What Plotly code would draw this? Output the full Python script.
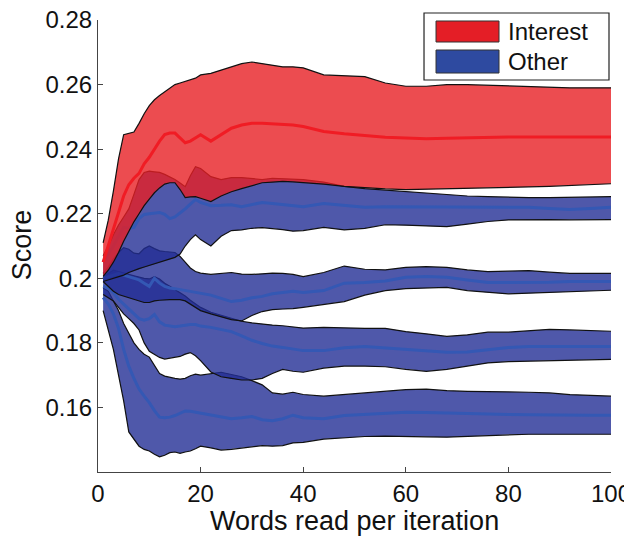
import plotly.graph_objects as go

# words read per iteration (x positions where values were read)
words = [1, 2, 3, 4, 5, 6, 7, 8, 9, 10, 11, 12, 13, 14, 15, 16, 17, 18, 19, 20,
         22, 24, 26, 28, 30, 32, 34, 36, 38, 40,
         44, 48, 52, 56, 60, 64, 68, 72, 76, 80, 84, 88, 92, 96, 100]

# Interest band
interest_upper = [0.211, 0.218, 0.227, 0.237, 0.2445, 0.245, 0.2453, 0.248, 0.251, 0.2535,
                  0.2553, 0.2566, 0.2578, 0.259, 0.26, 0.2605, 0.261, 0.2615, 0.262, 0.263,
                  0.2635, 0.2645, 0.2655, 0.2665, 0.267, 0.2665, 0.266, 0.2655, 0.2655, 0.2652,
                  0.263, 0.2628, 0.2625, 0.2605, 0.2595, 0.2595, 0.26, 0.26, 0.2598, 0.2595,
                  0.2593, 0.2592, 0.259, 0.259, 0.259]
interest_mean = [0.205, 0.21, 0.215, 0.22, 0.2255, 0.229, 0.231, 0.2325, 0.2355, 0.2375,
                 0.24, 0.2425, 0.2445, 0.245, 0.245, 0.2435, 0.242, 0.2425, 0.2435, 0.2445,
                 0.2425, 0.2445, 0.2465, 0.2475, 0.248, 0.248, 0.2478, 0.2478, 0.2475, 0.247,
                 0.2455, 0.2448, 0.2442, 0.2437, 0.2435, 0.2432, 0.2434, 0.2436, 0.2437, 0.2438,
                 0.2438, 0.2437, 0.2438, 0.2438, 0.2438]
interest_lower = [0.2006, 0.2025, 0.205, 0.208, 0.2115, 0.2145, 0.2175, 0.22, 0.2225, 0.2245,
                  0.2265, 0.228, 0.2292, 0.2296, 0.2296, 0.2275, 0.225, 0.2252, 0.2253, 0.2248,
                  0.2238, 0.2255, 0.2268, 0.2278, 0.2288, 0.2296, 0.2298, 0.23, 0.2299, 0.2297,
                  0.2292, 0.2285, 0.228, 0.2277, 0.2275, 0.2276, 0.2278, 0.228, 0.228, 0.2282,
                  0.2283, 0.2285, 0.2288, 0.229, 0.2293]

# Other bands, top to bottom
other1_upper = [0.207, 0.21, 0.2135, 0.2165, 0.219, 0.2215, 0.226, 0.2306, 0.2328, 0.2332,
                0.233, 0.2328, 0.2322, 0.2315, 0.2306, 0.2295, 0.2284, 0.2318, 0.2346, 0.234,
                0.2315, 0.2306, 0.2312, 0.2312, 0.2308, 0.2306, 0.231, 0.2308, 0.2306, 0.2306,
                0.2298, 0.2285, 0.2278, 0.2273, 0.2269, 0.2265, 0.226, 0.2255, 0.2253, 0.2251,
                0.225, 0.225, 0.2251, 0.2252, 0.2253]
other1_mean = [0.205, 0.2075, 0.21, 0.213, 0.2158, 0.2155, 0.2158, 0.2185, 0.2198, 0.22,
               0.2202, 0.2204, 0.2198, 0.2185, 0.219, 0.2202, 0.2215, 0.223, 0.2244, 0.2235,
               0.2225, 0.2226, 0.2228, 0.2222, 0.2228, 0.2235, 0.2232, 0.2228, 0.2224, 0.2222,
               0.2232, 0.2226, 0.222, 0.2222, 0.2222, 0.2221, 0.222, 0.2221, 0.2222, 0.2222,
               0.222, 0.2216, 0.2213, 0.2216, 0.222]
other1_lower = [0.199, 0.1995, 0.2, 0.2005, 0.201, 0.2018, 0.2025, 0.203, 0.2035, 0.204,
                0.2045, 0.205, 0.2055, 0.206, 0.2065, 0.2075, 0.21, 0.212, 0.2135, 0.212,
                0.21, 0.213, 0.2148, 0.215, 0.2155, 0.2157, 0.2155, 0.2151, 0.2146, 0.2148,
                0.2158, 0.215, 0.2155, 0.2166, 0.2165, 0.2162, 0.216, 0.2168, 0.2176, 0.2181,
                0.2182, 0.2182, 0.2181, 0.2182, 0.2182]

other2_upper = [0.2015, 0.2035, 0.206, 0.208, 0.2095, 0.209, 0.2078, 0.2076, 0.2092, 0.21,
                0.2092, 0.2085, 0.2083, 0.2081, 0.208, 0.2068, 0.205, 0.2032, 0.2021, 0.2016,
                0.2012, 0.2016, 0.2018, 0.2013, 0.2012, 0.2014, 0.2016, 0.2015, 0.2012, 0.2005,
                0.2018, 0.2038, 0.2028, 0.2026, 0.2034, 0.2036, 0.2034, 0.2026, 0.2021, 0.2022,
                0.2024, 0.2019, 0.2015, 0.2015, 0.2015]
other2_mean = [0.2, 0.2005, 0.201, 0.2015, 0.201, 0.2005, 0.2, 0.1995, 0.1985, 0.1975,
               0.2, 0.1985, 0.1975, 0.197, 0.1968, 0.1965, 0.1962, 0.1958, 0.1955, 0.1952,
               0.1948, 0.1938, 0.1928, 0.1932, 0.194, 0.1944, 0.1952, 0.1956, 0.196, 0.1956,
               0.1962, 0.1985, 0.1987, 0.1992, 0.2003, 0.2006, 0.2003, 0.1995, 0.1987, 0.1987,
               0.1987, 0.1988, 0.199, 0.199, 0.199]
other2_lower = [0.199, 0.1975, 0.196, 0.195, 0.1945, 0.194, 0.1935, 0.193, 0.1925, 0.1925,
                0.193, 0.1932, 0.1934, 0.1934, 0.1934, 0.1934, 0.193, 0.192, 0.191, 0.19,
                0.189, 0.188, 0.1872, 0.1868, 0.1885, 0.1897, 0.1903, 0.1905, 0.1906, 0.191,
                0.1918, 0.1928, 0.1948, 0.1962, 0.1968, 0.1971, 0.1972, 0.1962, 0.1956, 0.1952,
                0.1954, 0.1956, 0.1958, 0.196, 0.1963]

other3_upper = [0.2, 0.2015, 0.2025, 0.202, 0.2015, 0.2012, 0.2008, 0.2003, 0.2, 0.1998,
                0.2005, 0.1998, 0.1985, 0.1975, 0.1965, 0.1955, 0.1945, 0.1932, 0.192, 0.191,
                0.1895, 0.1885, 0.1875, 0.1867, 0.1862, 0.1858, 0.1855, 0.1853, 0.185, 0.1846,
                0.1848, 0.1846, 0.1845, 0.1845, 0.1835, 0.1828, 0.182, 0.1825, 0.1833, 0.1833,
                0.1838, 0.1842, 0.184, 0.1837, 0.1836]
other3_mean = [0.1975, 0.197, 0.1955, 0.1935, 0.192, 0.1905, 0.189, 0.1875, 0.187, 0.1875,
               0.1888, 0.1865, 0.1855, 0.1852, 0.185, 0.1852, 0.1855, 0.1857, 0.1857, 0.1852,
               0.1848, 0.1842, 0.1835, 0.1822, 0.1808, 0.1798, 0.179, 0.1786, 0.178, 0.1776,
               0.1776, 0.1785, 0.1789, 0.1784, 0.178, 0.1775, 0.1771, 0.1772, 0.178, 0.1786,
               0.1789, 0.1789, 0.1789, 0.1789, 0.1789]
other3_lower = [0.195, 0.194, 0.193, 0.191, 0.189, 0.1875, 0.186, 0.184, 0.18, 0.1774,
                0.1765, 0.1755, 0.175, 0.1752, 0.1756, 0.1758, 0.1765, 0.177, 0.176, 0.1745,
                0.171, 0.1695, 0.169, 0.1685, 0.1685, 0.169, 0.1705, 0.1718, 0.1712, 0.1709,
                0.1722, 0.1728, 0.1728, 0.1726, 0.1718, 0.1712, 0.1718, 0.1728, 0.1738, 0.1742,
                0.1743, 0.1744, 0.1746, 0.1748, 0.1749]

other4_upper = [0.197, 0.196, 0.193, 0.19, 0.186, 0.183, 0.18, 0.178, 0.1765, 0.1756,
                0.173, 0.1705, 0.1697, 0.1693, 0.169, 0.1688, 0.169, 0.1698, 0.1703, 0.17,
                0.1705, 0.1709, 0.1702, 0.1695, 0.1683, 0.167, 0.1645, 0.1641, 0.1647, 0.164,
                0.1635, 0.164, 0.1645, 0.165, 0.1655, 0.1657, 0.1652, 0.165, 0.165, 0.1648,
                0.1647, 0.1645, 0.164, 0.1637, 0.1635]
other4_mean = [0.194, 0.192, 0.189, 0.1845, 0.178, 0.1728, 0.169, 0.1657, 0.1635, 0.1615,
               0.159, 0.157, 0.1568, 0.157, 0.1575, 0.1582, 0.1589, 0.1588, 0.1585, 0.1583,
               0.1575, 0.157, 0.1565, 0.1568, 0.1572, 0.1562, 0.1559, 0.1565, 0.1576, 0.1568,
               0.1565, 0.1575, 0.1578, 0.1582, 0.1585, 0.1584, 0.1582, 0.158, 0.1578, 0.1578,
               0.1577, 0.1576, 0.1575, 0.1576, 0.1576]
other4_lower = [0.19, 0.184, 0.178, 0.17, 0.162, 0.1524, 0.15, 0.148, 0.147, 0.1465,
                0.1455, 0.1447, 0.1452, 0.146, 0.1462, 0.1458, 0.1462, 0.1465, 0.1472, 0.148,
                0.1475, 0.1468, 0.147, 0.1474, 0.1478, 0.1482, 0.148, 0.1482, 0.149, 0.1492,
                0.1502, 0.1506, 0.151, 0.1511, 0.1511, 0.1509, 0.1508, 0.151, 0.1513, 0.1516,
                0.1517, 0.1517, 0.1517, 0.1517, 0.1517]

y_ticks = [0.16, 0.18, 0.2, 0.22, 0.24, 0.26, 0.28]
y_labels = ["0.16", "0.18", "0.2", "0.22", "0.24", "0.26", "0.28"]
x_ticks = [0, 20, 40, 60, 80, 100]

RED_FILL = "rgba(231,31,36,0.8)"
RED_LINE = "rgb(240,28,36)"
BLUE_FILL = "rgba(35,46,149,0.8)"
BLUE_LINE = "rgb(52,88,180)"
FONT = "Liberation Sans, Arial, sans-serif"

fig = go.Figure()


def add_band(lower, mean, upper, fill, line_color):
    fig.add_trace(go.Scatter(x = words + words[::-1], y = upper + lower[::-1], mode = "lines",
                             fill = "toself", fillcolor = fill, line = dict(width = 0),
                             hoverinfo = "skip", showlegend = False))
    fig.add_trace(go.Scatter(x = words + [None] + words, y = upper + [None] + lower, mode = "lines",
                             line = dict(color = "#111111", width = 1.2), hoverinfo = "skip", showlegend = False))
    fig.add_trace(go.Scatter(x = words, y = mean, mode = "lines",
                             line = dict(color = line_color, width = 3), showlegend = False))


add_band(other4_lower, other4_mean, other4_upper, BLUE_FILL, BLUE_LINE)
add_band(other3_lower, other3_mean, other3_upper, BLUE_FILL, BLUE_LINE)
add_band(other2_lower, other2_mean, other2_upper, BLUE_FILL, BLUE_LINE)
add_band(other1_lower, other1_mean, other1_upper, BLUE_FILL, BLUE_LINE)
add_band(interest_lower, interest_mean, interest_upper, RED_FILL, RED_LINE)

# legend drawn by hand (MATLAB style wide swatches)
fig.add_shape(type = "rect", xref = "paper", yref = "paper", x0 = 0.6355, x1 = 0.9961, y0 = 0.8673, y1 = 1.0155,
              fillcolor = "white", line = dict(color = "#222222", width = 1.2))
fig.add_shape(type = "rect", xref = "paper", yref = "paper", x0 = 0.6589, x1 = 0.7817, y0 = 0.9513, y1 = 0.9978,
              fillcolor = "rgb(228,30,38)", line = dict(color = "#333333", width = 1))
fig.add_shape(type = "rect", xref = "paper", yref = "paper", x0 = 0.6589, x1 = 0.7817, y0 = 0.8827, y1 = 0.9336,
              fillcolor = "rgb(46,74,160)", line = dict(color = "#333333", width = 1))
fig.add_annotation(xref = "paper", yref = "paper", x = 0.7953, y = 0.9746, text = "Interest", showarrow = False,
                   xanchor = "left", yanchor = "middle", font = dict(family = FONT, size = 24, color = "#111111"))
fig.add_annotation(xref = "paper", yref = "paper", x = 0.7953, y = 0.9082, text = "Other", showarrow = False,
                   xanchor = "left", yanchor = "middle", font = dict(family = FONT, size = 24, color = "#111111"))

# axis titles
fig.add_annotation(xref = "paper", yref = "paper", x = 0.5, y = -0.108, text = "Words read per iteration",
                   showarrow = False, xanchor = "center", yanchor = "middle", font = dict(family = FONT, size = 27))
fig.add_annotation(xref = "paper", yref = "paper", x = -0.148, y = 0.502, text = "Score", textangle = -90,
                   showarrow = False, xanchor = "center", yanchor = "middle", font = dict(family = FONT, size = 27))

# the page body adds an 8px offset, so the figure is 8px smaller than the window
fig.update_layout(width = 624, height = 528, margin = dict(l = 90, r = 21, t = 12, b = 64),
                  plot_bgcolor = "white", paper_bgcolor = "white",
                  font = dict(family = FONT, size = 24, color = "#111111"))
fig.update_xaxes(range = [0, 100], tickvals = x_ticks, ticks = "inside", ticklen = 5, tickcolor = "#444444",
                 showline = True, linewidth = 1, linecolor = "#444444", showgrid = False, zeroline = False,
                 automargin = False, ticklabeloverflow = "allow")
fig.update_yaxes(range = [0.14, 0.28002], tickvals = y_ticks, ticktext = y_labels, ticks = "inside", ticklen = 5,
                 tickcolor = "#444444", showline = True, linewidth = 1, linecolor = "#444444",
                 showgrid = False, zeroline = False, automargin = False, ticklabeloverflow = "allow")

fig.write_html("out.html")
